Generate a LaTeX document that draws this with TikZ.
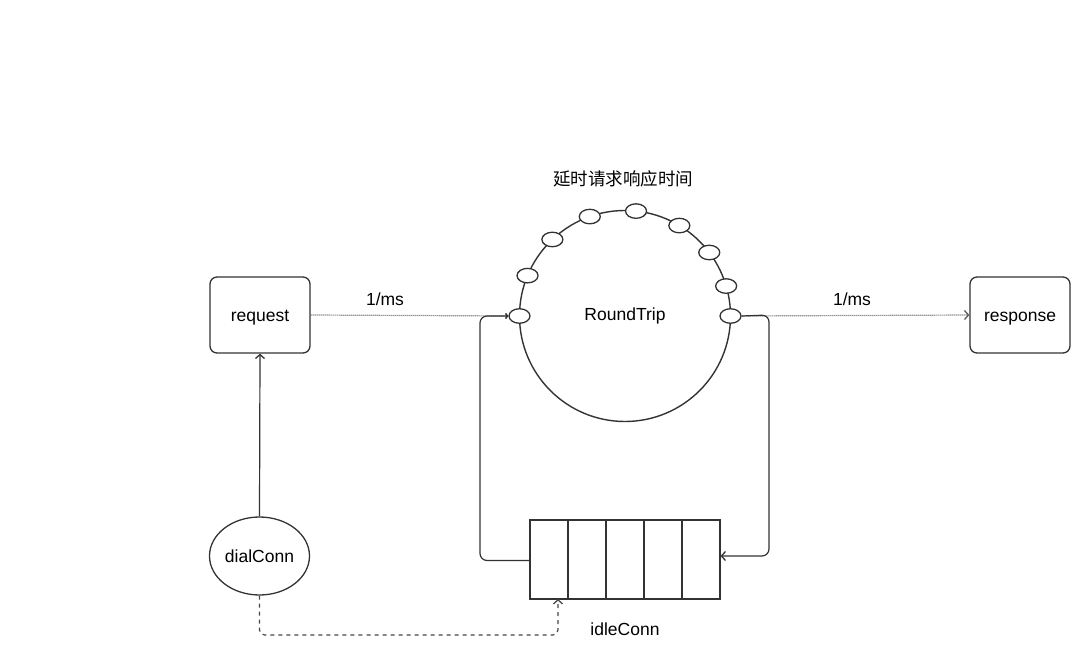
\documentclass[tikz,border=0pt]{standalone}
\usepackage{fontspec}
\setmainfont{Liberation Sans}
\newfontfamily\cjk{Noto Sans CJK SC}
\usetikzlibrary{arrows.meta,shapes.geometric,calc}
\definecolor{ink}{HTML}{333333}
\begin{document}
\begin{tikzpicture}[x=1pt,y=-1pt,
  every node/.style={font=\fontsize{17.5}{21}\selectfont, text=black, text height=12.8pt, text depth=0pt},
  lbl/.style={inner sep=0pt},
  box/.style={draw=ink, line width=1.3pt, rounded corners=7pt, minimum width=100pt, minimum height=76pt},
  cell/.style={draw=ink, line width=1.2pt, minimum width=38pt, minimum height=79pt, inner sep=0pt},
  dot/.style={draw=ink, line width=1.3pt, fill=white, ellipse, minimum width=21pt, minimum height=14.5pt, inner sep=0pt, text height=0pt},
  tip/.style={-{Straight Barb[length=4pt,width=9pt,line width=1.3pt]}},
  smalltip/.style={-{Straight Barb[length=2pt,width=5pt,line width=1.2pt]}},
  flow/.style={draw=ink, line width=1.2pt, rounded corners=7pt},
  rate/.style={draw=ink!80, line width=1.2pt, dash pattern=on 1pt off 1pt},
  pool/.style={draw=ink!90, line width=1.2pt, dash pattern=on 4pt off 4pt, rounded corners=5pt}]
\useasboundingbox (0,0) rectangle (1090,660);

% endpoints
\node[box] (req) at (260,315) {request};
\node[box] (resp) at (1020,315) {response};
\node[draw=ink, line width=1.3pt, ellipse, minimum width=100pt, minimum height=78pt, inner sep=0pt] (dial) at (259.5,556) {dialConn};

% round trip ring with its slots
\coordinate (rc) at (625,316);
\draw[ink, line width=1.4pt] (rc) circle[radius=105.5];
\node[lbl] (rt) at (625,314) {RoundTrip};
\node[lbl] (title) at (623,179) {\cjk 延时请求响应时间};
\foreach \a [count=\i] in {180,157.5,133.5,109.5,84,59,37,16.5,0}
  \node[dot] (e\i) at ($(rc)+({105.5*cos(\a)},{-105.5*sin(\a)})$) {};

% idle connection queue
\foreach \i in {1,...,5}
  \node[cell] (q\i) at (549+38*\i-38,559.5) {};
\node[lbl] (idle) at (625,629) {idleConn};
\coordinate (qin) at (558,599);

% connectors
\draw[rate, smalltip] (req.east) -- (e1.west);
\draw[rate, tip] (e9.east) -- (resp.west);
\node[lbl] at (385,299) {1/ms};
\node[lbl] at (852,299) {1/ms};
\draw[flow, smalltip] ($(q1.west)+(0,1)$) -- (480,560.5) |- (e1.west);
\draw[flow, tip] (e9.east) -- (769,315) |- ($(q5.east)+(0,-3.5)$);
\draw[ink, line width=1.2pt, tip] (dial.north) -- (req.south);
\draw[pool, tip] (dial.south) |- (558,635) -- (qin);
\end{tikzpicture}
\end{document}
